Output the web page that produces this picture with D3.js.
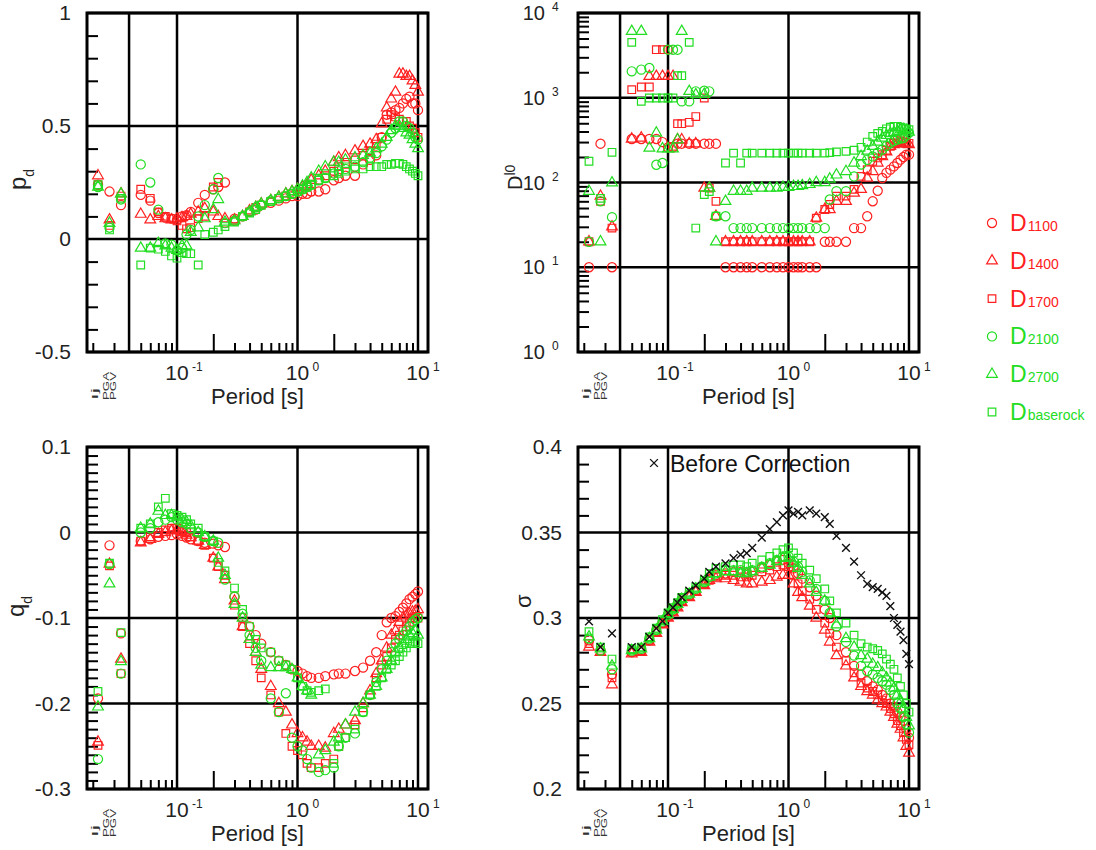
<!DOCTYPE html>
<html>
<head>
<meta charset="utf-8">
<script src="https://cdn.jsdelivr.net/npm/d3@7"></script>
<style>
  body { margin: 0; background: #fff; }
  svg { display: block; font-family: "Liberation Sans", Arial, sans-serif; }
</style>
</head>
<body>
<svg id="chart" width="1096" height="850"></svg>
<script>
// categories: 3 intensity measures, then the spectral periods [s]
const categories = ["Ij", "PGA", "PGV"];
const periods = [0.05, 0.06, 0.07, 0.08, 0.09, 0.1, 0.11, 0.12, 0.13, 0.15, 0.17, 0.2, 0.22, 0.25,
  0.3, 0.35, 0.4, 0.45, 0.5, 0.6, 0.7, 0.8, 0.9, 1, 1.1, 1.2, 1.3, 1.5, 1.7, 2, 2.2, 2.5,
  3, 3.5, 4, 4.5, 5, 5.5, 6, 6.5, 7, 7.5, 8, 8.5, 9, 9.5, 10];
const seriesNames = ["1100", "1400", "1700", "2100", "2700", "baserock"];

// each array: Ij, PGA, PGV, then one value per period
const pd_1100 = [0.24, 0.21, 0.15, 0.195, 0.17, 0.115, 0.095, 0.09, 0.085, 0.1, 0.105, 0.12, 0.16, 0.195, 0.22, 0.23, 0.25,
  0.09, 0.1, 0.12, 0.13, 0.15, 0.16, 0.17, 0.18, 0.19, 0.19, 0.2, 0.2, 0.21, 0.21, 0.22, 0.26, 0.27, 0.28, 0.28,
  0.33, 0.35, 0.37, 0.45, 0.55, 0.56, 0.57, 0.58, 0.6, 0.62, 0.63, 0.6, 0.6, 0.57];
const pd_1400 = [0.28, 0.085, 0.2, 0.11, 0.085, 0.1, 0.09, 0.085, 0.09, 0.095, 0.1, 0.11, 0.12, 0.135, 0.12, 0.1, 0.09,
  0.085, 0.1, 0.125, 0.14, 0.155, 0.17, 0.185, 0.2, 0.21, 0.22, 0.23, 0.24, 0.26, 0.28, 0.3, 0.34, 0.36, 0.37, 0.39,
  0.41, 0.42, 0.44, 0.51, 0.58, 0.62, 0.65, 0.73, 0.73, 0.72, 0.72, 0.7, 0.68, 0.65];
const pd_1700 = [0.24, 0.06, 0.19, 0.22, 0.18, 0.12, 0.1, 0.09, 0.08, 0.06, 0.045, 0.05, 0.09, 0.1, 0.23, 0.25, 0.07,
  0.08, 0.1, 0.12, 0.14, 0.15, 0.165, 0.18, 0.19, 0.2, 0.21, 0.22, 0.23, 0.24, 0.26, 0.28, 0.3, 0.32, 0.33, 0.35,
  0.37, 0.39, 0.42, 0.45, 0.53, 0.55, 0.54, 0.53, 0.52, 0.52, 0.5, 0.49, 0.47, 0.45];
const pd_2100 = [0.23, 0.05, 0.175, 0.33, 0.25, 0.13, -0.02, -0.025, -0.05, -0.04, 0.02, 0.04, 0.1, 0.15, 0.22, 0.27, 0.07,
  0.08, 0.1, 0.12, 0.14, 0.15, 0.17, 0.18, 0.19, 0.2, 0.21, 0.22, 0.23, 0.24, 0.26, 0.27, 0.29, 0.3, 0.31, 0.32,
  0.34, 0.36, 0.38, 0.41, 0.44, 0.47, 0.49, 0.52, 0.52, 0.5, 0.49, 0.47, 0.45, 0.44];
const pd_2700 = [0.23, 0.07, 0.2, -0.04, -0.04, -0.02, -0.03, -0.04, -0.05, -0.03, -0.03, 0.03, 0.05, 0.09, 0.13, 0.175, 0.075,
  0.08, 0.1, 0.12, 0.14, 0.155, 0.17, 0.185, 0.2, 0.21, 0.22, 0.235, 0.25, 0.27, 0.3, 0.32, 0.34, 0.34, 0.35, 0.36,
  0.37, 0.38, 0.4, 0.42, 0.45, 0.48, 0.5, 0.5, 0.49, 0.47, 0.46, 0.44, 0.42, 0.4];
const pd_base = [0.24, 0.04, 0.18, -0.115, -0.04, -0.045, -0.055, -0.075, -0.085, -0.06, -0.065, -0.065, -0.115, 0.02, 0.03, 0.04, 0.055,
  0.075, 0.1, 0.115, 0.13, 0.15, 0.165, 0.18, 0.19, 0.2, 0.21, 0.22, 0.23, 0.24, 0.26, 0.27, 0.28, 0.29, 0.3, 0.31,
  0.31, 0.32, 0.32, 0.32, 0.33, 0.33, 0.335, 0.335, 0.33, 0.32, 0.31, 0.3, 0.29, 0.28];

const dl_1100 = [10, 287, 10, 326, 326, 326, 326, 300, 260, 260, 287, 287, 287, 287, 287, 287, 287,
  10, 10, 10, 10, 10, 10, 10, 10, 10, 10, 10, 10, 10, 10, 10,
  20, 20, 20, 20, 29, 29, 40, 60, 80, 113, 130, 142, 155, 170, 186, 200, 213, 213];
const dl_1400 = [20, 69, 30, 326, 335, 1790, 1790, 1790, 1790, 1790, 320, 320, 287, 287, 86, 86, 40,
  20, 20, 20, 20, 20, 20, 20, 20, 20, 20, 20, 20, 20, 20,
  38, 48, 48, 60, 60, 75, 83, 113, 135, 170, 203, 230, 267, 280, 292, 292, 290, 285, 280];
const dl_1700 = [20, 60, 29, 1245, 1340, 1340, 3690, 3690, 3690, 267, 494, 494, 513, 600, 993, 86, 60,
  20, 20, 20, 20, 20, 20, 20, 20, 20, 20, 20, 20, 20, 20,
  38, 48, 55, 69, 69, 83, 118, 142, 178, 195, 213, 240, 267, 290, 320, 310, 300, 290, 290];
const dl_2100 = [20, 60, 39, 2050, 2150, 2245, 162, 170, 3690, 3690, 3690, 907, 907, 1190, 1210, 1190, 40,
  40, 29, 29, 29, 29, 29, 29, 29, 29, 29, 29, 29, 29, 29, 29, 29,
  63, 79, 79, 118, 163, 185, 203, 225, 244, 270, 292, 310, 320, 330, 335, 360, 385];
const dl_2700 = [79, 20, 99, 6080, 6080, 255, 384, 250, 250, 250, 320, 6080, 1190, 1090, 1100, 86, 20,
  60, 79, 79, 79, 86, 86, 86, 86, 88, 88, 90, 90, 92, 95, 100, 100, 110, 123, 135, 170, 203, 235, 267,
  300, 335, 360, 380, 390, 400, 420, 420, 410, 395];
const dl_base = [178, 65, 227, 4500, 907, 993, 993, 993, 993, 993, 1820, 1820, 4500, 29, 72, 78, 40,
  170, 222, 170, 222, 222, 222, 222, 222, 222, 222, 222, 222, 222, 222, 222, 222,
  225, 230, 233, 240, 260, 300, 350, 380, 400, 430, 450, 460, 460, 450, 440, 430, 420];

const qd_1100 = [-0.194, -0.015, -0.118, -0.01, -0.008, -0.005, -0.004, -0.003, -0.002, -0.004, -0.006, -0.008, -0.01, -0.012, -0.013, -0.015, -0.017,
  -0.075, -0.1, -0.11, -0.12, -0.13, -0.14, -0.15, -0.155, -0.16, -0.162, -0.165, -0.168, -0.17, -0.17, -0.168, -0.166,
  -0.165, -0.165, -0.162, -0.158, -0.15, -0.14, -0.12, -0.105, -0.1, -0.098, -0.093, -0.088, -0.083, -0.078, -0.075, -0.072, -0.069];
const qd_1400 = [-0.245, -0.037, -0.148, -0.012, -0.008, -0.002, 0, 0.002, 0.003, 0, -0.003, -0.006, -0.01, -0.015, -0.03, -0.04, -0.055,
  -0.08, -0.11, -0.125, -0.14, -0.16, -0.18, -0.2, -0.21, -0.225, -0.235, -0.24, -0.245, -0.25, -0.25, -0.252, -0.235,
  -0.23, -0.225, -0.22, -0.2, -0.185, -0.165, -0.15, -0.135, -0.12, -0.115, -0.105, -0.1, -0.097, -0.095, -0.093, -0.092, -0.09];
const qd_1700 = [-0.249, -0.039, -0.165, -0.01, -0.005, 0, 0.003, 0.005, 0.005, 0.002, 0, -0.005, -0.01, -0.015, -0.03, -0.04, -0.05,
  -0.085, -0.11, -0.13, -0.15, -0.17, -0.19, -0.21, -0.235, -0.25, -0.255, -0.26, -0.27, -0.275, -0.275, -0.27, -0.265,
  -0.25, -0.24, -0.225, -0.205, -0.19, -0.17, -0.155, -0.145, -0.135, -0.125, -0.12, -0.115, -0.11, -0.105, -0.1, -0.1, -0.1];
const qd_2100 = [-0.265, -0.037, -0.165, 0, 0.005, 0.012, 0.015, 0.018, 0.015, 0.012, 0.01, 0.005, 0, -0.005, -0.01, -0.012, -0.055,
  -0.075, -0.095, -0.12, -0.135, -0.15, -0.194, -0.21, -0.188, -0.24, -0.25, -0.255, -0.265, -0.275, -0.28, -0.278, -0.275,
  -0.25, -0.24, -0.235, -0.21, -0.19, -0.175, -0.16, -0.15, -0.14, -0.13, -0.125, -0.12, -0.115, -0.11, -0.105, -0.102, -0.1];
const qd_2700 = [-0.204, -0.06, -0.151, 0.005, 0.01, 0.025, 0.02, 0.02, 0.018, 0.015, 0.012, 0.008, 0, -0.005, -0.01, -0.03, -0.05,
  -0.084, -0.1, -0.125, -0.14, -0.155, -0.158, -0.158, -0.158, -0.16, -0.17, -0.18, -0.185, -0.19, -0.26, -0.255, -0.245,
  -0.24, -0.225, -0.21, -0.2, -0.19, -0.18, -0.17, -0.16, -0.15, -0.14, -0.135, -0.13, -0.125, -0.12, -0.118, -0.115, -0.12];
const qd_base = [-0.186, -0.036, -0.117, 0.005, 0.01, 0.03, 0.04, 0.022, 0.02, 0.018, 0.015, 0.01, 0.005, -0.005, -0.01, -0.035, -0.045,
  -0.065, -0.09, -0.11, -0.125, -0.135, -0.14, -0.15, -0.155, -0.16, -0.17, -0.18, -0.185, -0.187, -0.185, -0.183, -0.27,
  -0.25, -0.24, -0.23, -0.21, -0.19, -0.18, -0.17, -0.16, -0.155, -0.15, -0.145, -0.14, -0.135, -0.13, -0.13, -0.128, -0.13];

const sg_1100 = [0.287, 0.281, 0.267, 0.28, 0.281, 0.287, 0.292, 0.297, 0.301, 0.304, 0.307, 0.31, 0.313, 0.316, 0.32, 0.323, 0.325,
  0.326, 0.327, 0.327, 0.326, 0.327, 0.329, 0.331, 0.333, 0.334, 0.332, 0.329, 0.326, 0.323, 0.318, 0.313, 0.305,
  0.3, 0.29, 0.28, 0.272, 0.267, 0.263, 0.26, 0.258, 0.255, 0.253, 0.25, 0.248, 0.245, 0.242, 0.24, 0.235, 0.23];
const sg_1400 = [0.283, 0.28, 0.261, 0.279, 0.28, 0.286, 0.291, 0.296, 0.3, 0.303, 0.306, 0.309, 0.312, 0.315, 0.319, 0.322, 0.323,
  0.323, 0.322, 0.321, 0.32, 0.32, 0.321, 0.322, 0.324, 0.325, 0.325, 0.32, 0.315, 0.312, 0.307, 0.3, 0.293,
  0.286, 0.278, 0.272, 0.265, 0.26, 0.257, 0.255, 0.252, 0.25, 0.248, 0.245, 0.242, 0.238, 0.235, 0.23, 0.225, 0.221];
const sg_1700 = [0.285, 0.281, 0.265, 0.28, 0.281, 0.287, 0.292, 0.297, 0.301, 0.304, 0.307, 0.31, 0.313, 0.316, 0.32, 0.322, 0.324,
  0.325, 0.325, 0.324, 0.324, 0.325, 0.327, 0.328, 0.33, 0.331, 0.33, 0.325, 0.32, 0.316, 0.311, 0.305, 0.297,
  0.291, 0.283, 0.275, 0.268, 0.262, 0.259, 0.257, 0.255, 0.252, 0.25, 0.247, 0.244, 0.24, 0.237, 0.233, 0.229, 0.226];
const sg_2100 = [0.288, 0.281, 0.27, 0.281, 0.282, 0.288, 0.293, 0.298, 0.302, 0.305, 0.308, 0.311, 0.314, 0.317, 0.321, 0.324, 0.326,
  0.328, 0.328, 0.328, 0.327, 0.328, 0.33, 0.332, 0.334, 0.336, 0.336, 0.333, 0.33, 0.327, 0.322, 0.317, 0.31,
  0.303, 0.295, 0.286, 0.278, 0.272, 0.269, 0.267, 0.265, 0.263, 0.261, 0.258, 0.255, 0.25, 0.247, 0.242, 0.238, 0.233];
const sg_2700 = [0.289, 0.282, 0.272, 0.281, 0.282, 0.288, 0.293, 0.298, 0.302, 0.305, 0.308, 0.311, 0.314, 0.317, 0.321, 0.324, 0.326,
  0.327, 0.327, 0.326, 0.326, 0.327, 0.329, 0.331, 0.333, 0.335, 0.335, 0.332, 0.329, 0.325, 0.32, 0.315, 0.31,
  0.303, 0.296, 0.288, 0.283, 0.278, 0.276, 0.273, 0.271, 0.268, 0.265, 0.262, 0.259, 0.255, 0.251, 0.247, 0.242, 0.237];
const sg_base = [0.292, 0.283, 0.276, 0.282, 0.283, 0.289, 0.294, 0.299, 0.303, 0.306, 0.309, 0.312, 0.315, 0.318, 0.322, 0.326, 0.329,
  0.33, 0.331, 0.331, 0.33, 0.332, 0.334, 0.336, 0.338, 0.34, 0.341, 0.338, 0.335, 0.332, 0.328, 0.323, 0.317,
  0.31, 0.303, 0.297, 0.29, 0.285, 0.283, 0.282, 0.281, 0.279, 0.276, 0.273, 0.27, 0.265, 0.26, 0.255, 0.25, 0.245];
const sg_before = [0.298, 0.283, 0.291, 0.283, 0.283, 0.289, 0.294, 0.298, 0.303, 0.306, 0.309, 0.312, 0.316, 0.319, 0.323, 0.327, 0.33,
  0.332, 0.335, 0.337, 0.338, 0.341, 0.347, 0.352, 0.356, 0.36, 0.363, 0.361, 0.362, 0.36, 0.363, 0.361, 0.359,
  0.355, 0.348, 0.341, 0.333, 0.325, 0.32, 0.318, 0.317, 0.315, 0.313, 0.307, 0.3, 0.296, 0.292, 0.287, 0.279, 0.273];

const pdTicks = [-0.5, 0, 0.5, 1];
const qdTicks = [-0.3, -0.2, -0.1, 0, 0.1];
const sgTicks = [0.2, 0.25, 0.3, 0.35, 0.4];
const dlTicks = [1, 10, 100, 1000, 10000];
const xTickVals = [0.1, 1, 10];
const xTickExp = ["-1", "0", "1"];

const RED = "#ff2020", GREEN = "#22dd22";
const colors = [RED, RED, RED, GREEN, GREEN, GREEN];
const shapes = [d3.symbolCircle, d3.symbolTriangle, d3.symbolSquare, d3.symbolCircle, d3.symbolTriangle, d3.symbolSquare];
const shapeSize = [66, 50, 58, 66, 50, 58];
const timesSymbol = {
  draw(ctx, size) {
    const r = Math.sqrt(size) / 2;
    ctx.moveTo(-r, -r); ctx.lineTo(r, r);
    ctx.moveTo(r, -r); ctx.lineTo(-r, r);
  }
};

const svg = d3.select("#chart");

function drawPanel(p) {
  const g = svg.append("g");
  const x = d3.scaleLog().domain([Math.pow(10, -1.747), Math.pow(10, 1.083)]).range([p.x0, p.x1]);
  const xc = d3.scalePoint().domain(categories).range([p.x0 + 11, p.x0 + 34]);
  const y = (p.log ? d3.scaleLog() : d3.scaleLinear()).domain(p.domain).range([p.y1, p.y0]);

  // minor ticks, inward
  const xMinor = [];
  [0.01, 0.1, 1].forEach((b) => d3.range(2, 10).forEach((k) => xMinor.push(b * k)));
  const xm = xMinor.filter((v) => v > x.domain()[0] && v !== 0.04);
  g.append("g")
    .attr("transform", `translate(0,${p.y1})`)
    .call(d3.axisBottom(x).tickValues(xm).tickSizeOuter(0).tickFormat(""))
    .call((a) => a.select(".domain").remove())
    .call((a) => a.selectAll("line").attr("y2", (d) => (d === 0.2 || d === 2 ? -18 : -9)).attr("stroke-width", 2));

  let yMinor;
  if (p.log) {
    yMinor = [];
    [1, 10, 100, 1000].forEach((b) => d3.range(2, 10).forEach((k) => yMinor.push(b * k)));
  } else {
    yMinor = d3.range(p.domain[0], p.domain[1] + 1e-9, p.minorStep).filter(
      (v) => !p.ticks.some((t) => Math.abs(t - v) < 1e-9));
  }
  g.append("g")
    .attr("transform", `translate(${p.x0},0)`)
    .call(d3.axisLeft(y).tickValues(yMinor).tickSize(-11).tickFormat(""))
    .call((a) => a.select(".domain").remove())
    .call((a) => a.selectAll("line").attr("stroke-width", 2));

  // grid lines
  [0.04].concat(xTickVals).forEach((v) => {
    g.append("line").attr("x1", x(v)).attr("x2", x(v)).attr("y1", p.y0).attr("y2", p.y1)
      .attr("stroke", "#000").attr("stroke-width", 2.5);
  });
  p.ticks.forEach((v) => {
    g.append("line").attr("x1", p.x0).attr("x2", p.x1).attr("y1", y(v)).attr("y2", y(v))
      .attr("stroke", "#000").attr("stroke-width", 2.5);
  });
  g.append("rect").attr("x", p.x0).attr("y", p.y0).attr("width", p.x1 - p.x0).attr("height", p.y1 - p.y0)
    .attr("fill", "none").attr("stroke", "#000").attr("stroke-width", 3);

  // y tick labels
  if (p.log) {
    p.ticks.forEach((v) => {
      g.append("text").attr("x", p.x0 - 33).attr("y", y(v) + 7).attr("text-anchor", "end")
        .attr("font-size", 20).attr("fill", "#222").text("10");
      g.append("text").attr("x", p.x0 - 26).attr("y", y(v) - 2).attr("font-size", 12)
        .attr("fill", "#222").text(String(Math.round(Math.log10(v))));
    });
  } else {
    g.append("g")
      .attr("transform", `translate(${p.x0},0)`)
      .call(d3.axisLeft(y).tickValues(p.ticks).tickSize(0).tickPadding(16).tickFormat((d) => String(d)))
      .call((a) => a.select(".domain").remove())
      .attr("font-size", 21).attr("font-family", null).attr("fill", "#222")
      .call((a) => a.selectAll("text").attr("fill", "#222"));
  }

  // x tick labels
  xTickVals.forEach((v, i) => {
    g.append("text").attr("x", x(v)).attr("y", p.y1 + 28).attr("text-anchor", "middle")
      .attr("font-size", 21).attr("fill", "#222").text("10");
    g.append("text").attr("x", x(v) + 15).attr("y", p.y1 + 19).attr("font-size", 12)
      .attr("fill", "#222").text(xTickExp[i]);
  });
  // category labels (rotated)
  const catLen = [12, 28, 28];
  categories.forEach((c, i) => {
    const bx = p.x0 + [11, 22, 29][i];
    g.append("text").attr("transform", `translate(${bx},${p.y1 + 48}) rotate(-90)`)
      .attr("font-size", 8.5).attr("fill", "#333")
      .attr("textLength", catLen[i]).attr("lengthAdjust", "spacingAndGlyphs").text(c);
  });
  g.append("text").attr("x", (p.x0 + p.x1) / 2).attr("y", p.y1 + 52).attr("text-anchor", "middle")
    .attr("font-size", 22).attr("fill", "#222").text("Period [s]");

  // y title
  const t = g.append("text").attr("transform", `translate(${p.tx},${p.ty}) rotate(-90)`).attr("fill", "#222");
  t.append("tspan").attr("font-size", p.tMainSize).text(p.tMain);
  if (p.tSub) t.append("tspan").attr("font-size", 14).attr("dy", p.tSubDy).text(p.tSub);

  // markers
  const toX = (i) => (i < categories.length ? xc(categories[i]) : x(periods[i - categories.length]));
  p.series.forEach((arr, s) => {
    const sym = d3.symbol().type(shapes[s]).size(shapeSize[s]);
    g.append("g").selectAll("path").data(arr).join("path")
      .attr("transform", (d, i) => `translate(${toX(i)},${y(d)})`)
      .attr("d", sym).attr("fill", "none").attr("stroke", colors[s]).attr("stroke-width", 1.2);
  });
  if (p.before) {
    const sym = d3.symbol().type(timesSymbol).size(60);
    g.append("g").selectAll("path").data(p.before).join("path")
      .attr("transform", (d, i) => `translate(${toX(i)},${y(d)})`)
      .attr("d", sym).attr("fill", "none").attr("stroke", "#111").attr("stroke-width", 1.4);
    g.append("path").attr("transform", `translate(${p.x0 + 76},463)`).attr("d", sym)
      .attr("fill", "none").attr("stroke", "#111").attr("stroke-width", 1.4);
    g.append("text").attr("x", p.x0 + 92).attr("y", 472).attr("font-size", 23)
      .attr("fill", "#111").text("Before Correction");
  }
}

const panels = [
  { x0: 87, x1: 428, y0: 13, y1: 352, domain: [-0.5, 1], ticks: pdTicks, minorStep: 0.1,
    series: [pd_1100, pd_1400, pd_1700, pd_2100, pd_2700, pd_base],
    tx: 26, ty: 190, tMain: "p", tMainSize: 24, tSub: "d", tSubDy: 8 },
  { x0: 578, x1: 919, y0: 13, y1: 352, log: true, domain: [1, 10000], ticks: dlTicks,
    series: [dl_1100, dl_1400, dl_1700, dl_2100, dl_2700, dl_base],
    tx: 522, ty: 190, tMain: "D", tMainSize: 20, tSub: "l0", tSubDy: -7 },
  { x0: 87, x1: 428, y0: 447, y1: 789, domain: [-0.3, 0.1], ticks: qdTicks, minorStep: 0.01,
    series: [qd_1100, qd_1400, qd_1700, qd_2100, qd_2700, qd_base],
    tx: 24, ty: 617, tMain: "q", tMainSize: 24, tSub: "d", tSubDy: 8 },
  { x0: 578, x1: 919, y0: 447, y1: 789, domain: [0.2, 0.4], ticks: sgTicks, minorStep: 0.01,
    series: [sg_1100, sg_1400, sg_1700, sg_2100, sg_2700, sg_base], before: sg_before,
    tx: 531, ty: 608, tMain: "σ", tMainSize: 22 }
];
panels.forEach(drawPanel);

// legend
const leg = svg.append("g");
seriesNames.forEach((n, i) => {
  const cy = 223 + i * 37.8;
  leg.append("path").attr("transform", `translate(992,${cy})`)
    .attr("d", d3.symbol().type(shapes[i]).size(shapeSize[i]))
    .attr("fill", "none").attr("stroke", colors[i]).attr("stroke-width", 1.2);
  const t = leg.append("text").attr("x", 1010).attr("y", cy + 8).attr("fill", colors[i]);
  t.append("tspan").attr("font-size", 23).text("D");
  t.append("tspan").attr("font-size", 14).attr("dx", 1).text(n);
});
</script>
</body>
</html>
